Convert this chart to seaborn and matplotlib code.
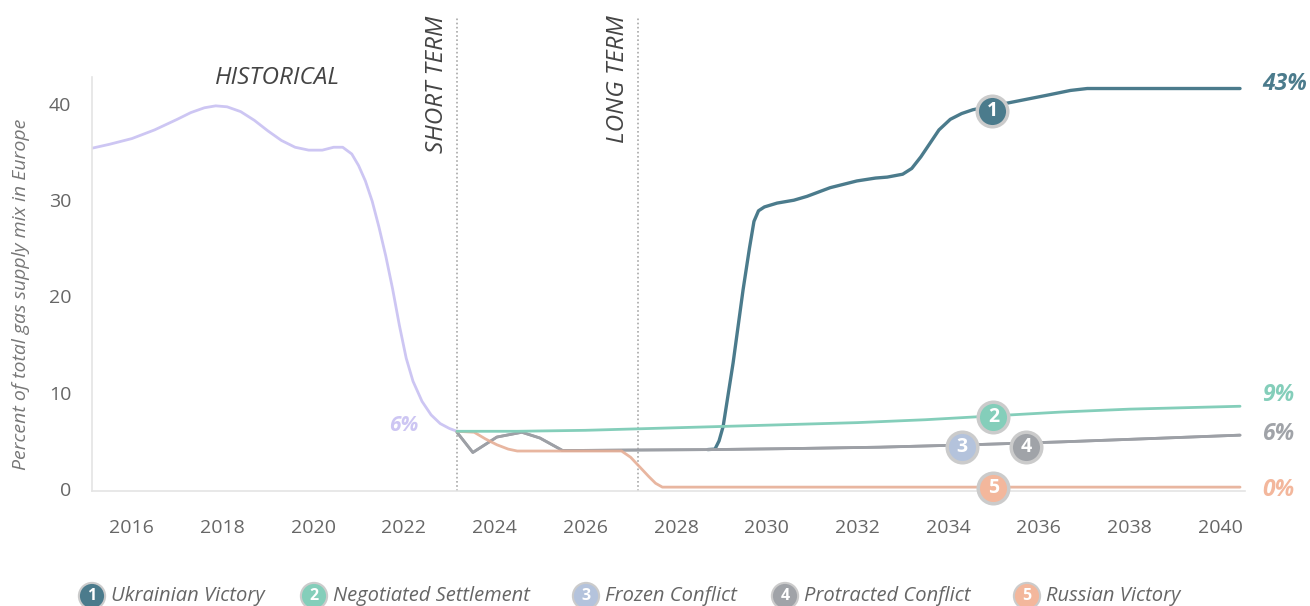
import matplotlib
matplotlib.use("Agg")
import pandas as pd
import seaborn as sns
from matplotlib import pyplot as plt

# ---- data ----
HIST_YEARS = [2015.12, 2015.5, 2016.0, 2016.5, 2017.0, 2017.3, 2017.6, 2017.85, 2018.1, 2018.4,
              2018.7, 2019.0, 2019.3, 2019.6, 2019.9, 2020.2, 2020.45, 2020.65, 2020.85, 2021.0,
              2021.15, 2021.3, 2021.45, 2021.6, 2021.75, 2021.9, 2022.05, 2022.2, 2022.4, 2022.6,
              2022.8, 2023.0, 2023.17]
HIST_VALUES = [35.4, 35.8, 36.4, 37.3, 38.4, 39.1, 39.6, 39.8, 39.7, 39.2,
               38.3, 37.2, 36.2, 35.5, 35.2, 35.2, 35.5, 35.5, 34.8, 33.6,
               32.0, 29.9, 27.2, 24.2, 20.8, 17.0, 13.6, 11.2, 9.1, 7.7,
               6.8, 6.3, 6.0]

UKR_YEARS = [2028.7, 2028.86, 2028.95, 2029.04, 2029.26, 2029.48, 2029.62, 2029.72, 2029.82, 2029.95,
             2030.23, 2030.6, 2030.89, 2031.4, 2031.99, 2032.4, 2032.66, 2033.0, 2033.2, 2033.4,
             2033.6, 2033.8, 2034.05, 2034.3, 2034.55, 2035.0, 2035.43, 2036.18, 2036.7, 2037.07,
             2040.44]
UKR_VALUES = [4.1, 4.15, 5.0, 6.5, 13.1, 20.7, 25.0, 27.8, 28.9, 29.3,
              29.7, 30.0, 30.4, 31.3, 32.0, 32.3, 32.4, 32.7, 33.3, 34.5,
              35.9, 37.3, 38.4, 39.0, 39.4, 39.8, 40.2, 40.9, 41.4, 41.6,
              41.6]

NEG_YEARS = [2023.17, 2024.5, 2026.0, 2027.5, 2029.0, 2030.5, 2032.0, 2033.5, 2035.0, 2036.5, 2038.0, 2040.44]
NEG_VALUES = [6.0, 6.0, 6.1, 6.3, 6.5, 6.7, 6.9, 7.2, 7.6, 8.0, 8.3, 8.6]

FROZEN_YEARS = [2023.17, 2023.52, 2024.05, 2024.6, 2025.0, 2025.5, 2027.0, 2028.8, 2030.5, 2032.5,
                2034.5, 2036.5, 2038.5, 2040.44]
FROZEN_VALUES = [5.9, 3.8, 5.4, 5.9, 5.3, 4.0, 4.05, 4.1, 4.2, 4.35, 4.6, 4.9, 5.25, 5.6]

PROT_YEARS = [2023.17, 2023.52, 2024.05, 2024.6, 2025.0, 2025.5, 2027.0, 2028.8, 2030.5, 2032.5,
              2034.5, 2036.5, 2038.5, 2040.44]
PROT_VALUES = [5.9, 3.8, 5.4, 5.9, 5.3, 4.0, 4.05, 4.1, 4.2, 4.35, 4.6, 4.9, 5.25, 5.6]

RUS_YEARS = [2023.17, 2023.55, 2023.8, 2024.05, 2024.3, 2024.5, 2025.5, 2026.8, 2027.0, 2027.2,
             2027.4, 2027.55, 2027.7, 2040.44]
RUS_VALUES = [6.0, 5.9, 5.2, 4.6, 4.15, 3.95, 3.95, 3.95, 3.3, 2.3, 1.3, 0.6, 0.2, 0.2]

SCENARIOS = ["Ukrainian Victory", "Negotiated Settlement", "Frozen Conflict",
             "Protracted Conflict", "Russian Victory"]
MARKER_YEARS = [2034.97, 2035.0, 2034.3, 2035.72, 2035.0]
MARKER_VALUES = [39.3, 7.5, 4.4, 4.4, 0.1]

END_LABELS = ["43%", "9%", "6%", "0%"]
END_LABEL_VALUES = [42.1, 9.8, 5.7, -0.1]
HIST_END_LABEL = "6%"

SHORT_TERM_YEAR = 2023.17
LONG_TERM_YEAR = 2027.17
X_TICKS = list(range(2016, 2041, 2))
Y_TICKS = [0, 10, 20, 30, 40]

# ---- styling ----
HIST_COLOR = "#cdc6f3"
COLORS = {
    "Ukrainian Victory": "#4b7b8c",
    "Negotiated Settlement": "#84ceba",
    "Frozen Conflict": "#b4c3dc",
    "Protracted Conflict": "#a0a3a8",
    "Russian Victory": "#f3b79c",
}
LINE_COLORS = {
    "Historical": HIST_COLOR,
    "Ukrainian Victory": "#4b7b8c",
    "Negotiated Settlement": "#84ceba",
    "Frozen Conflict": "#a0a3a8",
    "Protracted Conflict": "#9da0a6",
    "Russian Victory": "#e6ae96",
}
RING = "#cbcbcb"
TEXT_GREY = "#666666"

sns.set_theme(style="white")
plt.rcParams["font.family"] = ["Open Sans", "DejaVu Sans"]

series = [
    ("Historical", HIST_YEARS, HIST_VALUES),
    ("Ukrainian Victory", UKR_YEARS, UKR_VALUES),
    ("Frozen Conflict", FROZEN_YEARS, FROZEN_VALUES),
    ("Protracted Conflict", PROT_YEARS, PROT_VALUES),
    ("Russian Victory", RUS_YEARS, RUS_VALUES),
    ("Negotiated Settlement", NEG_YEARS, NEG_VALUES),
]
frames = [pd.DataFrame({"Year": y, "Share": v, "Scenario": name}) for name, y, v in series]
df = pd.concat(frames, ignore_index=True)

fig = plt.figure(figsize=(13.1, 6.06), dpi=100)
ax = fig.add_axes([0.0702, 0.1898, 0.8802, 0.6832])

for name, _, _ in series:
    sub = df[df["Scenario"] == name]
    sns.lineplot(data=sub, x="Year", y="Share", color=LINE_COLORS[name], ax=ax,
                 linewidth=2.4 if name == "Ukrainian Victory" else 2.0,
                 alpha=0.9 if name == "Russian Victory" else 1.0,
                 sort=False, estimator=None, legend=False)

ax.set_xlim(2015.12, 2040.55)
ax.set_ylim(-0.2, 42.8)
ax.set_xticks(X_TICKS)
ax.set_yticks(Y_TICKS)
ax.tick_params(axis="both", length=0, labelsize=14, colors=TEXT_GREY)
ax.tick_params(axis="x", pad=20)
ax.tick_params(axis="y", pad=15)
ax.set_xlabel("")
ax.set_ylabel("")
for side in ["top", "right"]:
    ax.spines[side].set_visible(False)
for side in ["left", "bottom"]:
    ax.spines[side].set_color("#e4e4e4")
    ax.spines[side].set_linewidth(1.2)

fig.text(0.016, 0.515, "Percent of total gas supply mix in Europe", rotation=90,
         ha="center", va="center", fontsize=14, style="italic", color="#777777")

# period separators
for yr, label in [(SHORT_TERM_YEAR, "SHORT TERM"), (LONG_TERM_YEAR, "LONG TERM")]:
    ax.axvline(yr, ymin=0.0, ymax=1.146, color="#a8a8a8", linestyle=(0, (1, 1.5)),
               linewidth=1.2, clip_on=False, zorder=1)
    ax.annotate(label, (yr, 49.2), xytext=(-6, 0), textcoords="offset points",
                rotation=90, ha="right", va="top", fontsize=17.5, style="italic",
                color="#444444", annotation_clip=False)
ax.text(2019.2, 42.7, "HISTORICAL", ha="center", va="center", fontsize=17.5,
        style="italic", color="#444444")

# historical end label
ax.annotate(HIST_END_LABEL, (HIST_YEARS[-1], HIST_VALUES[-1]), xytext=(-28, 4),
            textcoords="offset points", ha="right", va="center", fontsize=15,
            fontweight="bold", style="italic", color=HIST_COLOR)

# end labels
end_colors = [COLORS["Ukrainian Victory"], COLORS["Negotiated Settlement"],
              COLORS["Protracted Conflict"], COLORS["Russian Victory"]]
for txt, val, col in zip(END_LABELS, END_LABEL_VALUES, end_colors):
    ax.text(2040.93, val, txt, ha="left", va="center", fontsize=16.5,
            fontweight="bold", style="italic", color=col, clip_on=False)

# numbered scenario badges on the lines
for i, (name, mx, my) in enumerate(zip(SCENARIOS, MARKER_YEARS, MARKER_VALUES)):
    ax.plot(mx, my, marker="o", markersize=22, markerfacecolor=COLORS[name],
            markeredgecolor=RING, markeredgewidth=2.5, zorder=5, clip_on=False)
    ax.text(mx, my, str(i + 1), ha="center", va="center", fontsize=14,
            fontweight="bold", color="white", zorder=6)

# legend along the bottom
legend_badge_x = [92, 314, 586, 785, 1027]
for i, (name, bx) in enumerate(zip(SCENARIOS, legend_badge_x)):
    fig.text(bx / 1310, 10 / 606, str(i + 1), ha="center", va="center", fontsize=11.5,
             fontweight="bold", color="white",
             bbox=dict(boxstyle="circle,pad=0.32", fc=COLORS[name], ec=RING, lw=1.5))
    fig.text((bx + 19) / 1310, 10 / 606, name, ha="left", va="center", fontsize=14.5,
             style="italic", color=TEXT_GREY)

fig.savefig("out.png", dpi=100, facecolor="white")
